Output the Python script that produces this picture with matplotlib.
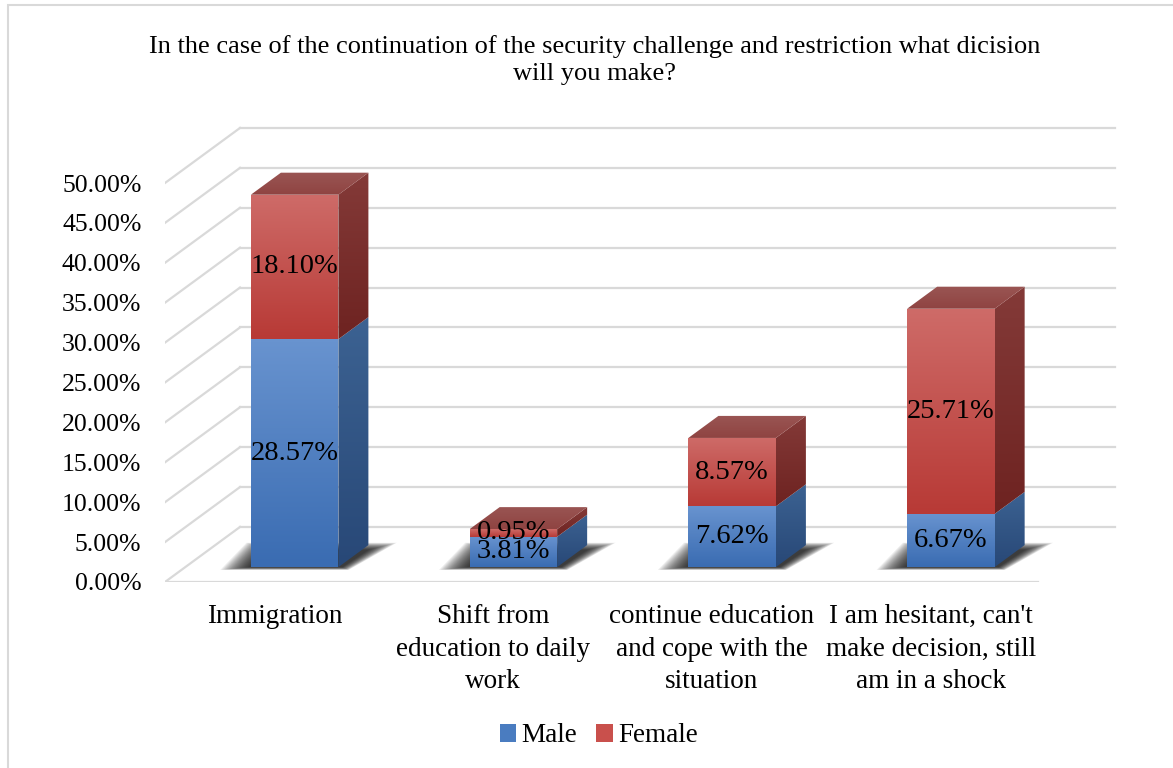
"""Stacked 3D-look column chart: decision under continued security restrictions."""
import matplotlib
matplotlib.use("Agg")
import matplotlib.pyplot as plt
import numpy as np
from matplotlib.colors import LinearSegmentedColormap
from matplotlib.patches import Polygon, Rectangle, Patch

categories = [
    "Immigration",
    "Shift from\neducation to daily\nwork",
    "continue education\nand cope with the\nsituation",
    "I am hesitant, can't\nmake decision, still\nam in a shock",
]
male = [28.57, 3.81, 7.62, 6.67]
female = [18.10, 0.95, 8.57, 25.71]
yticks = [0, 5, 10, 15, 20, 25, 30, 35, 40, 45, 50]

TITLE = ("In the case of the continuation of the security challenge and restriction what dicision\n"
         "will you make?")

# oblique projection of the depth axis (category units, percent units)
DX, DY = 0.343, 6.9
Z0, Z1 = 0.27, 0.67
BW = 0.4

plt.rcParams["font.family"] = ["Liberation Serif", "DejaVu Serif"]

fig = plt.figure(figsize=(11.73, 7.68), dpi=100)
ax = fig.add_axes([165 / 1173, 186 / 768, 4.4 * 218.75 / 1173, 58 * 7.98 / 768])

GRID = "#d9d9d9"
# back wall, side wall, floor
for y in yticks:
    ax.plot([DX, 4 + DX], [y + DY, y + DY], color=GRID, lw=1.6, zorder=1)
    ax.plot([0, DX], [y, y + DY], color=GRID, lw=1.6, zorder=1)
ax.plot([0, 3.99], [0, 0], color=GRID, lw=1.6, zorder=1)

blue_front = LinearSegmentedColormap.from_list("bf", ["#3a6cb2", "#6893cf"])
blue_side = LinearSegmentedColormap.from_list("bs", ["#284877", "#3c6292"])
red_front = LinearSegmentedColormap.from_list("rf", ["#b83a36", "#ce6b68"])
red_side = LinearSegmentedColormap.from_list("rs", ["#6e2321", "#843a38"])
red_top = LinearSegmentedColormap.from_list("rt", ["#8f4442", "#9a5553"])

grad = np.linspace(0, 1, 64).reshape(-1, 1)


def face(pts, cmap, z):
    pts = np.asarray(pts)
    poly = Polygon(pts, closed=True, facecolor="none", edgecolor="none", zorder=z)
    ax.add_patch(poly)
    im = ax.imshow(grad, cmap=cmap, origin="lower", aspect="auto", zorder=z,
                   extent=[pts[:, 0].min(), pts[:, 0].max(), pts[:, 1].min(), pts[:, 1].max()],
                   interpolation="bilinear")
    im.set_clip_path(poly)


def shadow(xa, xb, z):
    # soft drop shadow around the bar foot: stacked translucent layers, outer to inner
    fl, fr = xa + Z0 * DX, xb + Z1 * DX
    yb, yt = Z0 * DY, Z1 * DY
    n = 20
    for k in range(n):
        t = 1 - k / (n - 1)
        pts = [(fl - 0.01 - 0.13 * t, yb - 0.35 * t),
               (fr + 0.03 * t - 0.12, yb - 0.35 * t),
               (fr + 0.13 * t, yt - 0.6 + 0.9 * t),
               (fl + 0.06 - 0.08 * t, yt - 0.6 + 0.9 * t)]
        ax.add_patch(Polygon(pts, closed=True, facecolor="black", edgecolor="none",
                             alpha=0.065, zorder=z))


for i, (m, f) in enumerate(zip(male, female)):
    xa = i + 0.5 - BW / 2
    xb = i + 0.5 + BW / 2
    shadow(xa, xb, 2)
    segs = [(0, m, blue_front, blue_side), (m, m + f, red_front, red_side)]
    for j, (y0, y1, cf, cs) in enumerate(segs):
        zo = 3 + j
        face([(xa + Z0 * DX, y0 + Z0 * DY), (xb + Z0 * DX, y0 + Z0 * DY),
              (xb + Z0 * DX, y1 + Z0 * DY), (xa + Z0 * DX, y1 + Z0 * DY)], cf, zo)
        face([(xb + Z0 * DX, y0 + Z0 * DY), (xb + Z1 * DX, y0 + Z1 * DY),
              (xb + Z1 * DX, y1 + Z1 * DY), (xb + Z0 * DX, y1 + Z0 * DY)], cs, zo)
        if j == 1:
            face([(xa + Z0 * DX, y1 + Z0 * DY), (xb + Z0 * DX, y1 + Z0 * DY),
                  (xb + Z1 * DX, y1 + Z1 * DY), (xa + Z1 * DX, y1 + Z1 * DY)], red_top, zo)
    for y0, v in [(0, m), (m, f)]:
        ax.text(i + 0.5 + Z0 * DX, y0 + v / 2 + Z0 * DY, f"{v:.2f}%", ha="center", va="center",
                fontsize=20.5, color="black", zorder=10)

ax.set_xlim(0, 4.4)
ax.set_ylim(0, 58)
ax.set_yticks(yticks)
ax.set_yticklabels([f"{v:.2f}%" for v in yticks], fontsize=18.5)
ax.set_xticks([i + 0.5 for i in range(4)])
ax.set_xticklabels(categories, fontsize=19.5, linespacing=1.4)
ax.tick_params(length=0, axis="y", pad=17)
ax.tick_params(length=0, axis="x", pad=16)
for s in ax.spines.values():
    s.set_visible(False)
ax.set_facecolor("none")

fig.text(0.507, 1 - 60 / 768, TITLE, ha="center", va="center", fontsize=19, linespacing=1.35)

handles = [Patch(facecolor="#4a7cc0", label="Male"), Patch(facecolor="#c9504c", label="Female")]
fig.legend(handles=handles, loc="center", bbox_to_anchor=(0.5105, 1 - 736 / 768), ncol=2,
           frameon=False, fontsize=19.5, handlelength=0.6, handleheight=0.6,
           handletextpad=0.2, columnspacing=0.7)

fig.patches.append(Rectangle((8 / 1173, -0.01), 1.0, 1.01 - 5 / 768, transform=fig.transFigure,
                             facecolor="none", edgecolor="#d9d9d9", lw=1.5, zorder=0))

fig.savefig("out.png", dpi=100)
